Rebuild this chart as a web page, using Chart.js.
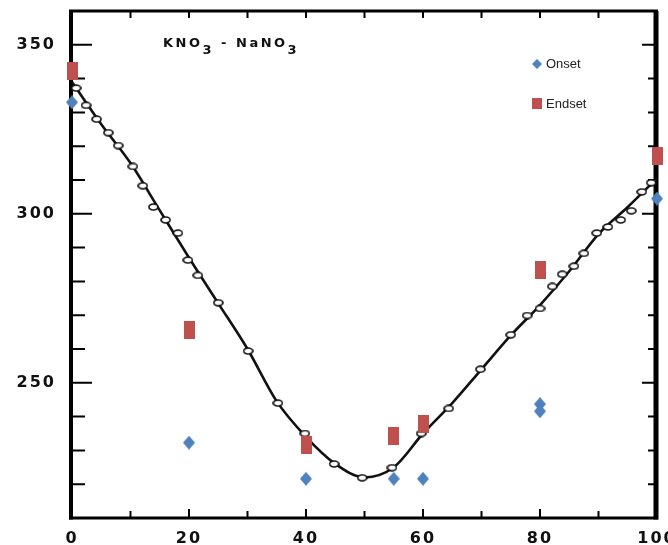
<!DOCTYPE html>
<html>
<head>
<meta charset="utf-8">
<script src="https://cdn.jsdelivr.net/npm/chart.js@4.4.0/dist/chart.umd.min.js"></script>
<style>
  html, body { margin: 0; padding: 0; background: #fff; }
  #wrap { width: 668px; height: 545px; position: relative; }
</style>
</head>
<body>
<div id="wrap"><canvas id="myChart"></canvas></div>
<script>
// liquidus line of the KNO3 - NaNO3 diagram
const curveX = [0, 5, 10, 15, 20, 25, 30, 35, 40, 45, 50, 55, 60, 65, 70, 75, 80, 85, 90, 95, 100];
const curveY = [339, 326.5, 315, 301, 287, 273.5, 260, 244.5, 234, 226, 222, 225, 235, 244, 254, 264, 273, 283, 294, 302, 310.5];

// open circles of the old measurements
const circleX = [0.7, 2.4, 4.2, 6.2, 7.9, 10.4, 12.1, 13.9, 16, 18.1, 19.8, 21.5, 25, 30.1, 35.2, 39.8, 44.8, 49.6, 54.7, 59.7,
                 64.4, 69.8, 75, 77.8, 80, 82.1, 83.8, 85.8, 87.5, 89.7, 91.6, 93.8, 95.6, 97.4, 99];
const circleY = [337.2, 332.1, 328, 324, 320.2, 314, 308.3, 302, 298.2, 294.3, 286.3, 281.8, 273.7, 259.4, 244, 235, 226, 221.9, 224.9, 235,
                 242.4, 254, 264.2, 269.9, 272, 278.5, 282.1, 284.5, 288.3, 294.3, 296.1, 298.2, 300.9, 306.5, 309.2];

// onset / endset
const onsetX = [0, 20, 40, 55, 60, 80, 80, 100];
const onsetY = [333, 232.3, 221.6, 221.6, 221.6, 243.7, 241.6, 304.5];
const endsetX = [0, 20, 40, 55, 60, 80, 100];
const endsetY = [342.3, 265.7, 231.7, 234.4, 237.7, 283.3, 317];

const xTickLabels = [0, 20, 40, 60, 80, 100];
const yTickLabels = [250, 300, 350];
const xMinor = [10, 20, 30, 40, 50, 60, 70, 80, 90];
const yMinor = [220, 230, 240, 250, 260, 270, 280, 290, 300, 310, 320, 330, 340, 350];

const blue = '#4f81bd';
const red = '#c0504d';

function toPoints(xs, ys) {
  return xs.map((x, i) => ({ x: x, y: ys[i] }));
}

function rectImg(w, h, color) {
  const c = document.createElement('canvas');
  c.width = w; c.height = h;
  const g = c.getContext('2d');
  g.fillStyle = color;
  g.fillRect(0, 0, w, h);
  return c;
}

function diamondImg(w, h, color) {
  const c = document.createElement('canvas');
  c.width = w; c.height = h;
  const g = c.getContext('2d');
  g.fillStyle = color;
  g.beginPath();
  g.moveTo(w / 2, 0); g.lineTo(w, h / 2); g.lineTo(w / 2, h); g.lineTo(0, h / 2);
  g.closePath();
  g.fill();
  return c;
}

function ringImg(w, h) {
  const c = document.createElement('canvas');
  c.width = w; c.height = h;
  const g = c.getContext('2d');
  g.fillStyle = '#fff';
  g.strokeStyle = '#111';
  g.lineWidth = 1.7;
  g.beginPath();
  g.ellipse(w / 2, h / 2, w / 2 - 1, h / 2 - 1, 0, 0, Math.PI * 2);
  g.fill();
  g.stroke();
  return c;
}

const onsetMark = diamondImg(12, 14, blue);
const endsetMark = rectImg(11, 18, red);
const circleMark = ringImg(11, 8);

const decor = {
  id: 'decor',
  beforeDraw(chart) {
    chart.ctx.letterSpacing = '2px';
  },
  beforeDatasetsDraw(chart) {
    const ctx = chart.ctx;
    ctx.letterSpacing = '0px';
    const a = chart.chartArea;
    const xs = chart.scales.x, ys = chart.scales.y;
    ctx.save();
    ctx.strokeStyle = '#000';
    ctx.lineWidth = 2;
    yMinor.forEach(v => {
      const py = ys.getPixelForValue(v);
      const major = v % 50 === 0;
      ctx.beginPath();
      ctx.moveTo(a.left, py); ctx.lineTo(a.left + (major ? 20 : 13), py);
      ctx.moveTo(a.right, py); ctx.lineTo(a.right - (major ? 15 : 9), py);
      ctx.stroke();
    });
    xMinor.forEach(v => {
      const px = xs.getPixelForValue(v);
      const major = v % 20 === 0;
      ctx.beginPath();
      ctx.moveTo(px, a.bottom); ctx.lineTo(px, a.bottom - (major ? 9 : 7));
      ctx.moveTo(px, a.top); ctx.lineTo(px, a.top + 7);
      ctx.stroke();
    });
    // frame
    ctx.lineWidth = 4;
    ctx.beginPath(); ctx.moveTo(a.left - 1, a.top); ctx.lineTo(a.left - 1, a.bottom + 1.5); ctx.stroke();
    ctx.lineWidth = 5;
    ctx.beginPath(); ctx.moveTo(a.right - 1, a.top); ctx.lineTo(a.right - 1, a.bottom + 1.5); ctx.stroke();
    ctx.lineWidth = 3;
    ctx.beginPath(); ctx.moveTo(a.left - 3, a.bottom); ctx.lineTo(a.right + 1, a.bottom); ctx.stroke();
    ctx.beginPath(); ctx.moveTo(a.left - 3, a.top); ctx.lineTo(a.right + 1, a.top); ctx.stroke();
    ctx.restore();
  },
  afterDraw(chart) {
    const ctx = chart.ctx;
    const a = chart.chartArea;
    ctx.save();
    // title with subscripts
    ctx.font = 'bold 13px "DejaVu Sans"';
    ctx.letterSpacing = '2.5px';
    ctx.fillStyle = '#111';
    ctx.textBaseline = 'alphabetic';
    let tx = a.left + 91;
    const base = a.top + 36;
    [['KNO', 0], ['3', 7], [' - ', 0], ['NaNO', 0], ['3', 7]].forEach(p => {
      ctx.fillText(p[0], tx, base + p[1]);
      tx += ctx.measureText(p[0]).width;
    });
    // legend
    ctx.letterSpacing = '0px';
    ctx.font = '13px "Liberation Sans"';
    ctx.textBaseline = 'middle';
    ctx.textAlign = 'left';
    const lx = a.left + 465;
    ctx.fillStyle = blue;
    ctx.beginPath();
    ctx.moveTo(lx, a.top + 48); ctx.lineTo(lx + 5, a.top + 53); ctx.lineTo(lx, a.top + 58); ctx.lineTo(lx - 5, a.top + 53);
    ctx.closePath(); ctx.fill();
    ctx.fillStyle = red;
    ctx.fillRect(lx - 5, a.top + 87, 10, 11);
    ctx.fillStyle = '#222';
    ctx.fillText(chart.data.datasets[0].label, lx + 9, a.top + 53);
    ctx.fillText(chart.data.datasets[1].label, lx + 9, a.top + 93);
    ctx.restore();
  }
};

const tickFont = { family: '"DejaVu Sans"', size: 16, weight: 'bold' };

new Chart(document.getElementById('myChart'), {
  type: 'scatter',
  data: {
    datasets: [
      {
        label: 'Onset',
        data: toPoints(onsetX, onsetY),
        pointStyle: onsetMark,
        clip: false,
        order: 0
      },
      {
        label: 'Endset',
        data: toPoints(endsetX, endsetY),
        pointStyle: endsetMark,
        clip: false,
        order: 1
      },
      {
        label: 'points',
        data: toPoints(circleX, circleY),
        pointStyle: circleMark,
        clip: false,
        order: 2
      },
      {
        label: 'liquidus',
        data: toPoints(curveX, curveY),
        showLine: true,
        borderColor: '#111',
        borderWidth: 2.6,
        pointRadius: 0,
        cubicInterpolationMode: 'monotone',
        clip: false,
        order: 3
      }
    ]
  },
  options: {
    responsive: true,
    maintainAspectRatio: false,
    animation: false,
    events: [],
    layout: { padding: { top: 11, right: 11, left: 0, bottom: 0 } },
    plugins: {
      legend: { display: false },
      tooltip: { enabled: false }
    },
    scales: {
      x: {
        type: 'linear',
        min: 0,
        max: 100,
        grid: { display: false },
        border: { display: false },
        ticks: {
          stepSize: 20,
          color: '#111',
          font: tickFont,
          padding: 3,
          callback: v => xTickLabels.includes(v) ? v : null
        },
        afterFit: s => { s.height = 27; s.paddingLeft = 0; s.paddingRight = 0; }
      },
      y: {
        min: 210,
        max: 360,
        grid: { display: false },
        border: { display: false },
        ticks: {
          stepSize: 10,
          color: '#111',
          font: tickFont,
          padding: 8,
          callback: v => yTickLabels.includes(v) ? v : null
        },
        afterFit: s => { s.width = 72; s.paddingTop = 0; s.paddingBottom = 0; }
      }
    }
  },
  plugins: [decor]
});
</script>
</body>
</html>
